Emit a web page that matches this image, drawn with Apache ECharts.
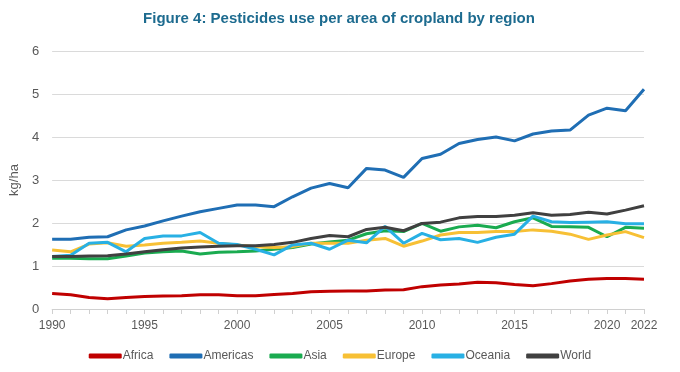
<!DOCTYPE html>
<html>
<head>
<meta charset="utf-8">
<script src="https://cdn.jsdelivr.net/npm/echarts@6/dist/echarts.min.js"></script>
<style>html,body{margin:0;padding:0;background:#fff}#c{width:680px;height:372px}</style>
</head>
<body>
<div id="c"></div>
<script>
const years = [1990,1991,1992,1993,1994,1995,1996,1997,1998,1999,2000,2001,2002,2003,2004,2005,2006,2007,2008,2009,2010,2011,2012,2013,2014,2015,2016,2017,2018,2019,2020,2021,2022];
const africa   = [0.36,0.33,0.27,0.24,0.27,0.29,0.30,0.31,0.33,0.33,0.31,0.31,0.34,0.36,0.40,0.41,0.42,0.42,0.44,0.45,0.52,0.56,0.58,0.62,0.61,0.57,0.54,0.59,0.65,0.69,0.71,0.71,0.69];
const americas = [1.62,1.62,1.67,1.68,1.84,1.93,2.05,2.16,2.26,2.34,2.42,2.42,2.38,2.61,2.81,2.92,2.82,3.27,3.23,3.06,3.50,3.60,3.85,3.94,4.00,3.91,4.07,4.14,4.16,4.51,4.67,4.61,5.11];
const asia     = [1.18,1.18,1.17,1.17,1.23,1.30,1.33,1.35,1.28,1.32,1.33,1.35,1.39,1.43,1.51,1.56,1.60,1.75,1.82,1.80,1.99,1.81,1.91,1.95,1.89,2.03,2.12,1.92,1.91,1.90,1.68,1.90,1.88];
const europe   = [1.37,1.33,1.51,1.54,1.46,1.49,1.53,1.55,1.58,1.53,1.49,1.45,1.43,1.45,1.53,1.53,1.53,1.60,1.64,1.46,1.58,1.72,1.78,1.78,1.80,1.80,1.84,1.81,1.74,1.62,1.72,1.80,1.66];
const oceania  = [1.22,1.25,1.53,1.55,1.33,1.64,1.70,1.70,1.78,1.53,1.50,1.39,1.26,1.49,1.53,1.39,1.60,1.54,1.92,1.53,1.76,1.61,1.64,1.55,1.67,1.74,2.16,2.03,2.01,2.02,2.03,1.98,1.98];
const world    = [1.22,1.22,1.23,1.24,1.28,1.33,1.38,1.42,1.44,1.46,1.47,1.47,1.50,1.55,1.64,1.71,1.68,1.85,1.90,1.82,1.99,2.02,2.12,2.15,2.15,2.18,2.24,2.18,2.20,2.25,2.21,2.30,2.40];
const seriesNames = ['Africa','Americas','Asia','Europe','Oceania','World'];
const seriesData = [africa, americas, asia, europe, oceania, world];
const colors = ['#c00000','#1f6eb4','#1aab50','#f7c035','#28b0e4','#404040'];
const labelYears = [1990,1995,2000,2005,2010,2015,2020,2022];

const chart = echarts.init(document.getElementById('c'));
const FONT = "'Liberation Sans',Arial,sans-serif";
chart.setOption({
  animation: false,
  color: colors,
  title: {
    text: 'Figure 4: Pesticides use per area of cropland by region',
    left: 334, textAlign: 'center', top: 6,
    textStyle: {fontFamily: FONT, fontWeight: 'bold', fontSize: 15, color: '#1d6b8f'}
  },
  legend: {
    bottom: 5, left: 'center',
    icon: 'roundRect', itemWidth: 33, itemHeight: 5, itemGap: 16,
    textStyle: {fontFamily: FONT, fontSize: 12, color: '#595959', padding: [0, 0, 0, -4]},
    data: seriesNames
  },
  grid: {left: 49, right: 36, top: 51, bottom: 63},
  xAxis: {
    type: 'value', min: 1990, max: 2022, interval: 1,
    axisLine: {show: true, lineStyle: {color: '#d0d0d0'}},
    axisTick: {show: true, length: 5, lineStyle: {color: '#d0d0d0'}},
    splitLine: {show: false},
    axisLabel: {
      color: '#595959', fontFamily: FONT, fontSize: 12, margin: 11, hideOverlap: false,
      formatter: v => labelYears.indexOf(v) >= 0 ? String(v) : ''
    }
  },
  yAxis: {
    type: 'value', min: 0, max: 6, interval: 1,
    name: 'kg/ha', nameLocation: 'middle', nameGap: 26, nameRotate: 90,
    nameTextStyle: {fontFamily: FONT, fontSize: 13, color: '#595959'},
    axisLine: {show: false}, axisTick: {show: false},
    splitLine: {lineStyle: {color: '#dadada'}},
    axisLabel: {color: '#595959', fontFamily: FONT, fontSize: 13, margin: 13}
  },
  series: seriesNames.map((n, i) => ({
    name: n, type: 'line', showSymbol: false, symbol: 'none',
    lineStyle: {width: 3, color: colors[i]},
    data: years.map((y, k) => [y, seriesData[i][k]])
  }))
});
</script>
</body>
</html>
